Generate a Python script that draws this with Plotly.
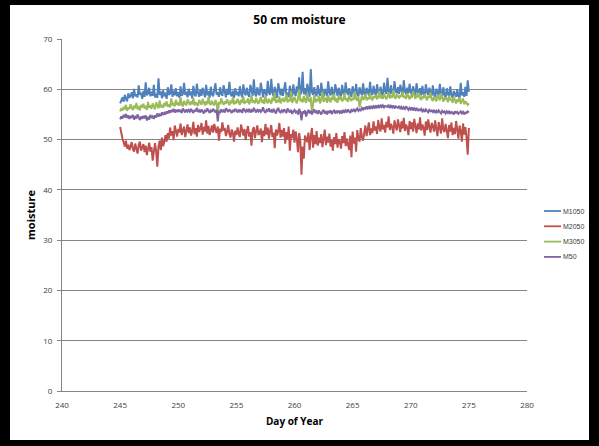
import plotly.graph_objects as go

# Day grid: readings every 0.1 day from day 245 to 275
days = [round(245 + i * 0.1, 1) for i in range(301)]

M1050 = [
    57.2, 57.8, 58.4, 57.5, 58.9, 58.1, 57.6, 59.2, 58.3, 58.7,
    59.4, 58.2, 60.1, 58.6, 59.0, 58.4, 60.8, 58.9, 59.3, 58.1,
    59.7, 58.5, 61.4, 58.8, 59.2, 60.3, 58.6, 59.5, 58.7, 60.9,
    58.4, 59.1, 58.3, 62.2, 58.9, 59.6, 58.2, 59.8, 58.6, 59.3,
    58.1, 60.4, 58.9, 59.2, 61.0, 58.5, 59.7, 58.8, 60.2, 58.6,
    59.4, 58.3, 60.6, 58.7, 59.1, 61.3, 58.9, 59.5, 58.4, 60.1,
    58.8, 59.6, 58.2, 60.7, 59.0, 58.6, 61.1, 59.3, 58.5, 59.9,
    58.7, 60.3, 59.1, 58.4, 60.9, 58.8, 59.6, 58.3, 60.5, 59.0,
    58.6, 59.8, 61.2, 58.9, 59.4, 58.5, 60.4, 59.1, 58.7, 60.8,
    59.2, 58.4, 60.1, 58.9, 61.5, 59.0, 58.6, 59.7, 58.3, 60.2,
    58.9, 59.5, 58.6, 60.6, 59.1, 58.4, 61.0, 59.3, 58.8, 60.3,
    59.0, 58.5, 60.9, 59.4, 58.7, 62.0, 59.1, 58.6, 60.4, 59.2,
    58.8, 61.3, 59.5, 58.4, 60.0, 59.1, 58.7, 61.7, 59.3, 58.9,
    62.1, 59.4, 58.6, 60.5, 59.0, 58.3, 61.2, 59.6, 58.8, 60.1,
    58.7, 59.9, 61.4, 58.9, 59.3, 58.4, 60.7, 59.5, 58.6, 61.0,
    59.2, 58.7, 60.6, 59.4, 62.4, 58.9, 59.6, 63.5, 59.0, 60.2,
    58.8, 61.1, 59.3, 58.5, 64.0, 59.4, 58.9, 60.4, 59.1, 58.6,
    60.8, 59.2, 58.7, 61.3, 59.5, 58.4, 60.1, 59.0, 58.6, 61.6,
    59.3, 58.8, 60.5, 59.1, 58.5, 61.0, 59.4, 58.7, 60.3, 59.0,
    58.6, 60.9, 59.2, 58.8, 61.4, 59.5, 58.9, 60.2, 59.1, 58.5,
    60.6, 59.3, 58.7, 61.1, 59.0, 58.6, 60.4, 59.4, 58.9, 61.2,
    59.1, 58.7, 60.3, 59.5, 58.8, 61.5, 59.2, 58.9, 60.7, 59.3,
    58.8, 61.0, 59.4, 59.0, 60.5, 59.2, 58.7, 61.3, 59.6, 59.1,
    62.3, 59.5, 59.0, 60.8, 59.3, 58.9, 61.6, 59.7, 59.2, 60.4,
    59.1, 60.9, 59.4, 58.8, 61.8, 59.6, 59.0, 60.3, 59.2, 61.1,
    59.4, 58.9, 60.6, 59.3, 58.7, 61.2, 59.5, 59.0, 60.2, 58.8,
    60.7, 59.1, 58.6, 61.0, 59.4, 58.9, 60.3, 59.2, 58.7, 60.8,
    59.0, 58.5, 60.1, 59.3, 58.8, 61.1, 59.2, 58.6, 60.4, 58.9,
    58.4, 60.2, 59.0, 58.7, 60.6, 58.8, 58.3, 59.7, 58.9, 58.5,
    60.0, 58.6, 58.2, 61.3, 58.8, 59.4, 58.5, 60.5, 58.7, 61.8,
    59.5,
]

M2050 = [
    52.5, 51.0, 50.2, 49.5, 48.6, 49.8, 48.2, 49.0, 47.9, 48.7,
    49.5, 48.1, 47.6, 49.2, 48.4, 47.2, 48.9, 49.6, 47.8, 48.3,
    49.1, 47.5, 48.8, 46.9, 48.2, 49.4, 47.6, 48.5, 45.8, 48.0,
    49.3, 47.7, 44.6, 48.6, 49.8, 47.9, 50.4, 48.7, 49.5, 50.9,
    49.6, 51.3, 50.2, 52.4, 50.8, 51.7, 49.9, 52.8, 51.2, 50.6,
    52.1, 51.4, 53.2, 50.9, 51.8, 52.6, 50.5, 51.9, 53.0, 51.3,
    52.4, 50.8, 51.7, 53.5, 51.1, 52.3, 50.6, 52.9, 51.5, 52.2,
    53.3, 51.0, 52.5, 51.6, 53.8, 51.2, 52.7, 50.9, 51.9, 52.8,
    51.4, 53.1, 52.0, 51.3, 52.6, 49.8, 52.2, 51.5, 53.4, 51.8,
    52.3, 50.7, 51.6, 52.9, 51.1, 50.4, 52.0, 51.3, 49.6, 51.8,
    50.9, 52.4, 51.2, 50.5, 53.0, 51.4, 50.8, 52.1, 49.9, 51.6,
    52.7, 50.6, 51.5, 48.8, 51.9, 52.5, 50.3, 51.7, 52.8, 50.9,
    51.3, 52.2, 49.5, 51.8, 50.7, 53.1, 51.0, 52.4, 50.2, 51.6,
    52.9, 50.5, 51.4, 48.3, 52.0, 50.8, 51.7, 53.3, 50.4, 51.9,
    50.6, 52.3, 49.2, 51.5, 50.1, 52.6, 47.8, 51.1, 50.3, 52.0,
    49.4, 51.6, 50.2, 47.5, 51.3, 49.7, 43.0, 48.6, 46.2, 50.8,
    50.1, 49.5, 51.4, 47.9, 50.6, 52.3, 48.4, 50.9, 49.1, 51.7,
    48.8, 50.4, 49.3, 51.1, 48.5, 50.0, 52.0, 48.9, 50.6, 49.4,
    51.2, 48.6, 49.9, 47.8, 50.5, 49.1, 51.3, 48.4, 50.1, 49.6,
    48.2, 50.7, 49.3, 51.5, 48.7, 50.2, 49.0, 47.9, 50.8, 46.5,
    51.6, 49.2, 50.4, 47.6, 51.9, 50.1, 49.6, 52.3, 50.5, 49.8,
    51.4, 52.8, 50.7, 51.9, 53.4, 50.9, 52.2, 51.3, 53.6, 51.8,
    52.6, 51.1, 53.9, 52.3, 51.6, 54.2, 52.0, 52.9, 51.4, 53.5,
    52.4, 54.6, 51.9, 53.1, 52.5, 51.2, 53.8, 52.7, 51.8, 54.0,
    52.8, 51.5, 53.6, 52.2, 54.3, 51.7, 53.0, 52.4, 50.9, 53.7,
    52.1, 53.4, 51.6, 54.1, 52.6, 51.3, 53.2, 52.0, 54.4, 51.8,
    53.0, 52.3, 50.8, 53.6, 51.9, 54.0, 52.5, 51.4, 53.3, 52.7,
    51.6, 53.8, 52.1, 50.7, 53.5, 52.4, 51.2, 54.2, 52.0, 51.5,
    53.1, 51.8, 50.3, 52.9, 51.6, 53.4, 50.9, 52.3, 51.1, 53.7,
    51.4, 50.2, 52.8, 51.7, 49.6, 53.2, 51.0, 52.5, 50.4, 47.0,
    52.3,
]

M3050 = [
    55.6, 56.2, 55.8, 56.5, 56.0, 56.9, 55.7, 56.4, 56.1, 57.0,
    56.3, 55.9, 56.8, 56.2, 57.3, 56.0, 56.6, 55.8, 56.9, 56.4,
    57.1, 56.2, 56.7, 55.9, 57.5, 56.3, 56.8, 56.1, 57.2, 56.5,
    56.0, 57.4, 56.6, 56.2, 57.8, 56.4, 56.9, 56.3, 57.3, 56.7,
    57.6, 56.5, 57.0, 56.4, 58.2, 56.8, 57.3, 56.6, 57.9, 56.9,
    57.2, 56.7, 58.4, 57.0, 56.6, 57.7, 57.1, 56.8, 58.0, 57.3,
    56.9, 57.6, 57.0, 58.3, 56.8, 57.4, 57.1, 56.7, 57.9, 57.2,
    56.9, 58.1, 57.3, 56.8, 57.6, 57.0, 58.5, 57.2, 56.9, 57.7,
    57.1, 56.8, 57.9, 57.3, 54.8, 57.5, 57.0, 58.2, 57.4, 56.9,
    57.6, 57.1, 58.0, 57.3, 56.8, 57.8, 57.2, 58.4, 57.0, 57.5,
    57.2, 58.1, 57.4, 56.9, 57.9, 57.3, 58.6, 57.1, 57.7, 57.4,
    58.2, 57.0, 57.6, 58.9, 57.3, 57.8, 57.2, 58.3, 57.5, 57.1,
    57.8, 58.5, 57.3, 57.9, 57.1, 58.7, 57.6, 57.2, 58.1, 57.5,
    57.1, 58.4, 57.7, 59.4, 57.3, 57.9, 57.4, 58.6, 57.2, 57.8,
    58.3, 57.5, 57.9, 59.0, 57.4, 58.0, 57.6, 59.6, 57.3, 57.9,
    58.5, 57.7, 57.2, 58.2, 60.0, 57.6, 58.1, 57.4, 58.7, 57.8,
    57.3, 59.2, 57.9, 57.5, 58.4, 55.3, 57.8, 58.9, 57.4, 58.1,
    57.6, 58.6, 57.2, 58.0, 59.5, 57.5, 57.9, 58.3, 57.3, 58.8,
    57.8, 57.4, 58.5, 57.9, 59.1, 57.6, 58.2, 57.3, 58.7, 57.9,
    58.4, 57.6, 58.0, 59.3, 57.8, 58.2, 57.5, 58.9, 58.0, 57.7,
    58.3, 57.9, 59.6, 58.1, 57.7, 58.5, 56.4, 58.0, 58.8, 57.9,
    58.2, 59.0, 57.8, 58.4, 58.0, 59.3, 58.1, 57.9, 58.6, 58.3,
    58.9, 58.0, 58.5, 59.7, 58.2, 58.7, 58.1, 59.1, 58.4, 58.0,
    58.6, 59.4, 58.2, 58.8, 58.3, 59.9, 58.5, 58.1, 59.0, 58.4,
    58.2, 58.9, 58.5, 59.5, 58.3, 58.7, 58.1, 59.2, 58.6, 58.0,
    58.8, 58.3, 59.6, 58.5, 58.1, 58.9, 58.4, 59.3, 58.2, 57.9,
    58.6, 58.2, 59.1, 58.4, 57.8, 58.7, 58.3, 59.4, 58.0, 57.7,
    58.5, 58.1, 57.6, 58.9, 58.2, 57.8, 59.2, 58.0, 57.5, 58.4,
    57.9, 58.3, 57.4, 58.7, 57.8, 58.1, 57.3, 58.5, 57.6, 57.2,
    58.0, 57.5, 58.4, 57.1, 57.7, 58.2, 57.0, 57.6, 57.3, 56.9,
    57.2,
]

M50 = [
    54.0, 54.6, 54.2, 54.9, 54.4, 55.1, 54.3, 54.8, 54.1, 54.7,
    54.3, 54.9, 54.0, 54.5, 54.2, 55.0, 54.4, 53.9, 54.6, 54.1,
    54.7, 54.2, 54.8, 53.8, 54.5, 54.0, 54.9, 54.3, 54.6, 54.1,
    54.8, 54.4, 55.2, 54.6, 55.0, 54.7, 55.4, 54.9, 55.3, 55.0,
    55.6, 55.2, 55.8, 55.3, 55.9, 55.5, 56.1, 55.4, 55.8, 55.6,
    56.0, 55.5, 55.9, 55.3, 56.2, 55.7, 55.4, 56.0, 55.6, 55.9,
    55.4, 56.1, 55.7, 55.3, 55.9, 55.6, 56.3, 55.5, 55.8, 55.4,
    56.0, 55.6, 55.2, 55.9, 55.5, 56.2, 55.7, 55.3, 55.8, 55.5,
    56.1, 55.6, 55.4, 55.9, 53.6, 55.7, 55.3, 56.0, 55.6, 55.8,
    55.4, 56.2, 55.7, 55.5, 56.0, 55.6, 55.3, 55.9, 55.5, 56.1,
    55.7, 55.4, 56.0, 55.6, 55.9, 55.3, 56.2, 55.8, 55.5, 55.9,
    55.6, 56.1, 55.4, 55.8, 55.5, 56.3, 55.7, 55.4, 55.9, 55.6,
    56.0, 55.5, 55.8, 56.4, 55.6, 55.3, 55.9, 55.7, 56.2, 55.5,
    55.8, 55.4, 56.1, 55.7, 55.2, 55.9, 56.3, 55.6, 55.4, 55.8,
    55.5, 56.0, 55.6, 55.3, 56.2, 55.7, 55.4, 55.9, 55.1, 55.6,
    55.9, 55.4, 55.7, 55.0, 56.1, 55.5, 53.8, 55.6, 55.2, 55.8,
    54.6, 55.4, 55.9, 55.2, 55.7, 55.0, 55.5, 56.0, 55.3, 55.6,
    55.1, 55.8, 55.4, 55.0, 55.6, 55.9, 55.2, 55.5, 55.0, 55.7,
    55.3, 55.8, 55.1, 55.5, 55.9, 55.2, 55.6, 55.4, 55.8, 55.3,
    55.6, 55.2, 55.9, 55.5, 55.8, 55.4, 56.0, 55.6, 55.3, 55.9,
    55.7, 56.1, 55.5, 55.9, 56.2, 55.7, 56.0, 55.8, 56.3, 56.0,
    56.4, 56.0, 56.6, 56.2, 56.5, 56.1, 56.7, 56.3, 56.6, 56.2,
    56.8, 56.4, 56.7, 56.3, 56.9, 56.5, 56.8, 56.4, 56.7, 56.6,
    56.5, 56.9, 56.3, 56.7, 56.4, 56.8, 56.2, 56.6, 56.5, 56.3,
    56.7, 56.2, 56.5, 56.0, 56.4, 56.1, 56.6, 56.2, 55.9, 56.3,
    56.0, 56.4, 55.8, 56.2, 55.9, 56.3, 55.7, 56.0, 55.8, 56.1,
    55.6, 55.9, 55.5, 56.0, 55.7, 55.4, 55.9, 55.6, 55.8, 55.5,
    55.9, 55.4, 55.7, 55.3, 55.8, 55.5, 55.2, 55.7, 55.4, 55.6,
    55.2, 55.6, 55.3, 55.7, 55.1, 55.5, 55.4, 55.0, 55.6, 55.3,
    55.5, 55.1, 55.4, 55.6, 55.2, 55.5, 55.0, 55.4, 55.3, 55.6,
    55.4,
]

series_names = ["M1050", "M2050", "M3050", "M50"]
series_values = [M1050, M2050, M3050, M50]
colors = ["#4F81BD", "#C0504D", "#9BBB59", "#8064A2"]

x_ticks = [240, 245, 250, 255, 260, 265, 270, 275, 280]
y_ticks = [0, 10, 20, 30, 40, 50, 60, 70]

W, H = 599, 446
L, R, T, B = 62, 72, 39, 55
PW, PH = W - L - R, H - T - B


def px_x(px):
    return (px - L) / PW


def px_y(py):
    return (H - B - py) / PH


fig = go.Figure()
for name, vals, col in zip(series_names, series_values, colors):
    fig.add_trace(go.Scatter(x=days, y=vals, mode="lines", name=name,
                             line=dict(color=col, width=2)))

font_family = "Open Sans, Liberation Sans, Arial, sans-serif"

# white chart area inside the black frame
shapes = [dict(type="rect", xref="paper", yref="paper",
               x0=px_x(10), x1=px_x(589), y0=px_y(440), y1=px_y(5),
               fillcolor="white", line=dict(width=0), layer="below")]
annotations = []
# legend (line sample + label) to the right of the plot
for i, (name, col) in enumerate(zip(series_names, colors)):
    ly = 211 + 15.3 * i
    shapes.append(dict(type="line", xref="paper", yref="paper",
                       x0=px_x(544), x1=px_x(561), y0=px_y(ly), y1=px_y(ly),
                       line=dict(color=col, width=1.8)))
    annotations.append(dict(text=name, xref="paper", yref="paper",
                            x=px_x(561), y=px_y(ly), xanchor="left", yanchor="middle",
                            showarrow=False,
                            font=dict(size=7, color="#404040",
                                      family="Liberation Sans, Arial, sans-serif")))

fig.update_layout(
    width=W, height=H,
    margin=dict(l=L, r=R, t=T, b=B, autoexpand=False),
    paper_bgcolor="black",
    plot_bgcolor="rgba(0,0,0,0)",
    font=dict(family=font_family, size=8, color="#404040"),
    title=dict(text="<b>50 cm moisture</b>", x=0.5, xanchor="center",
               y=1 - 20 / H, yanchor="middle",
               font=dict(size=12, color="black", family=font_family)),
    showlegend=False,
    shapes=shapes,
    annotations=annotations,
)

fig.update_xaxes(
    range=[240, 280], tickvals=x_ticks, showgrid=False, zeroline=False,
    showline=True, linecolor="#868686", linewidth=1,
    ticks="", ticklabelstandoff=6,
    title=dict(text="<b>Day of Year</b>", font=dict(size=10, color="black"), standoff=9),
    tickfont=dict(size=8, color="#404040"),
)
fig.update_yaxes(
    range=[0, 70], tickvals=y_ticks, showgrid=True, gridcolor="#868686", gridwidth=1,
    zeroline=False, showline=True, linecolor="#868686", linewidth=1,
    ticks="outside", ticklen=4, tickcolor="#868686", ticklabelstandoff=3,
    title=dict(text="<b>moisture</b>", font=dict(size=11, color="black"), standoff=5),
    tickfont=dict(size=8, color="#404040"),
)

fig.write_html("out.html", config={"displayModeBar": False},
               post_script="document.body.style.margin='0px';")
